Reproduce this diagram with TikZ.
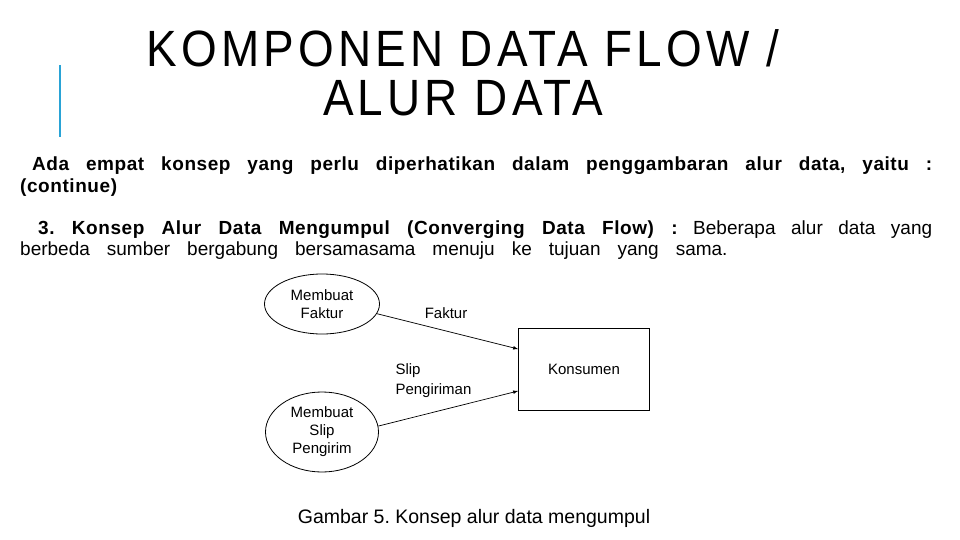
\documentclass[tikz,border=0pt]{standalone}
\usepackage{fontspec}
\setmainfont{Liberation Sans}
\newfontfamily\judulfont[FakeStretch=0.9, LetterSpace=8]{Liberation Sans}
\newfontfamily\isifont[LetterSpace=3]{Liberation Sans}
\usetikzlibrary{shapes.geometric,arrows,positioning}
\frenchspacing

\begin{document}
\begin{tikzpicture}[
  x=1pt, y=-1pt,
  proses/.style={draw, line width=0.8pt, ellipse, inner sep=0pt, align=center, font=\fontsize{15}{18}\selectfont},
  entitas/.style={draw, line width=0.8pt, rectangle, inner sep=0pt, minimum width=131pt, minimum height=82pt, font=\fontsize{15}{18}\selectfont},
  aliran/.style={-latex, line width=0.7pt},
  label/.style={align=left, font=\fontsize{15}{20}\selectfont},
  paragraf/.style={text width=912pt, align=justify, anchor=north west, inner sep=0pt}
]
\useasboundingbox (0,0) rectangle (960,540);
% judul
\draw[color={rgb,255:red,41;green,163;blue,214}, line width=2.5pt] (60,65) -- (60,137);
\node[font=\judulfont\fontsize{51}{49}\selectfont, align=center] (judul) at (463,73) {KOMPONEN DATA FLOW /\\ALUR DATA};
% paragraf
\node[paragraf, font=\isifont\bfseries\fontsize{19}{22}\selectfont] (para1) at (20,157)
  {\hspace*{12pt}Ada empat konsep yang perlu diperhatikan dalam penggambaran alur data, yaitu :\linebreak (continue)};
\node[paragraf, font=\fontsize{19}{21}\selectfont] (para2) at (20,221)
  {\hspace*{18pt}{\isifont\bfseries 3. Konsep Alur Data Mengumpul (Converging Data Flow) :} Beberapa alur data yang\linebreak
  {\spaceskip=17pt berbeda sumber bergabung bersamasama menuju ke tujuan yang sama.}};
% diagram
\node[proses, minimum width=115pt, minimum height=60pt] (faktur) at (322,304) {Membuat\\Faktur};
\node[proses, minimum width=113pt, minimum height=80pt] (slip) at (322,432) {Membuat\\Slip\\Pengirim};
\node[entitas] (konsumen) at (584,369) {Konsumen};
\draw[aliran] (faktur.-10) -- ([yshift=20pt]konsumen.west);
\draw[aliran] (slip.6) -- ([yshift=-22pt]konsumen.west);
\node[label] (lblfaktur) at (446,313) {Faktur};
\node[label, anchor=west] (lblslip) at (392,381) {Slip\\Pengiriman};
\node[font=\fontsize{19.5}{20}\selectfont] (caption) at (474,518) {Gambar 5. Konsep alur data mengumpul};
\end{tikzpicture}
\end{document}
